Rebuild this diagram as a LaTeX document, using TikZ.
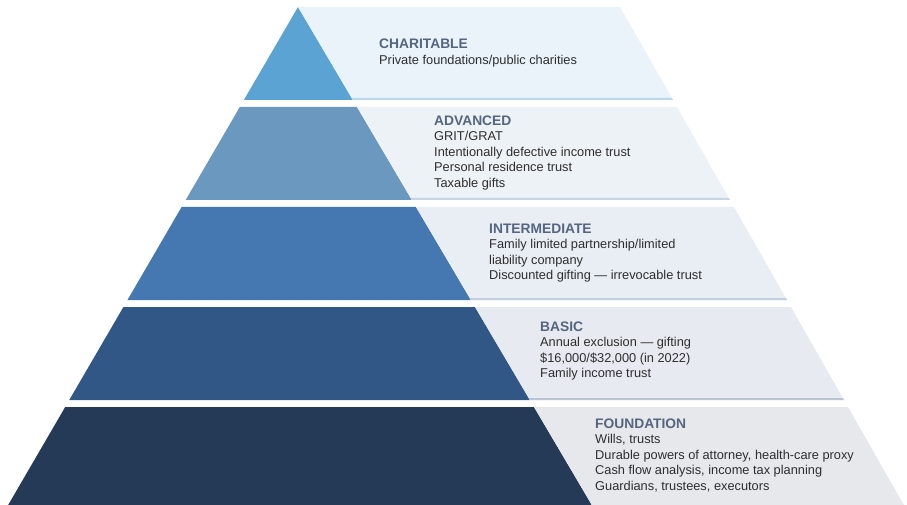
\documentclass[tikz,border=0pt]{standalone}
\usepackage{fontspec}
\setmainfont{Liberation Sans}
\definecolor{dA}{HTML}{5BA3D3}\definecolor{lA}{HTML}{EAF3FA}\definecolor{sA}{HTML}{BFD7EA}
\definecolor{dB}{HTML}{6B98BE}\definecolor{lB}{HTML}{EDF2F7}\definecolor{sB}{HTML}{C6D5E3}
\definecolor{dC}{HTML}{4578B0}\definecolor{lC}{HTML}{E9EEF5}\definecolor{sC}{HTML}{C3CFDF}
\definecolor{dD}{HTML}{305786}\definecolor{lD}{HTML}{E7EAF0}\definecolor{sD}{HTML}{BAC4D2}
\definecolor{dE}{HTML}{243A56}\definecolor{lE}{HTML}{E6E8EC}\definecolor{sE}{HTML}{E6E8EC}
\definecolor{ttlc}{HTML}{55657F}
\definecolor{bodyc}{HTML}{2E2E2E}
\newcommand\pyrtier[5]{%
  \fill[#3] ({Lx(#1)},#1) -- ({Cx(#1)},#1) -- ({Cx(#2)},#2) -- ({Lx(#2)},#2) -- cycle;
  \fill[#4] ({Cx(#1)},#1) -- ({Rx(#1)},#1) -- ({Rx(#2)},#2) -- ({Cx(#2)},#2) -- cycle;
  \fill[#5] ({Cx(#2-2)},#2-2) -- ({Rx(#2-2)},#2-2) -- ({Rx(#2)},#2) -- ({Cx(#2)},#2) -- cycle;
}
\newcommand\ttl[1]{{\fontsize{13.8}{15.5}\selectfont\bfseries\color{ttlc}#1}}
\begin{document}
\begin{tikzpicture}[x=1pt,y=-1pt,
  declare function={Lx(\y)=298-0.582*(\y-7); Cx(\y)=298+0.590*(\y-7); Rx(\y)=620+0.570*(\y-7);},
  tiertext/.style={anchor=west, align=left, inner sep=0pt, text=bodyc,
    font=\fontsize{12.8}{15.5}\selectfont}]
\useasboundingbox (0,0) rectangle (907,505);
\pyrtier{7}{100}{dA}{lA}{sA}
\pyrtier{107}{200}{dB}{lB}{sB}
\pyrtier{207}{300}{dC}{lC}{sC}
\pyrtier{307}{400}{dD}{lD}{sD}
\pyrtier{407}{505}{dE}{lE}{sE}
\node[tiertext] (t1) at (379,53) {\ttl{CHARITABLE}\\Private foundations/public charities};
\node[tiertext] (t2) at (434,153) {\ttl{ADVANCED}\\GRIT/GRAT\\Intentionally defective income trust\\Personal residence trust\\Taxable gifts};
\node[tiertext] (t3) at (489,253) {\ttl{INTERMEDIATE}\\Family limited partnership/limited\\liability company\\Discounted gifting — irrevocable trust};
\node[tiertext] (t4) at (540,351) {\ttl{BASIC}\\Annual exclusion — gifting\\\$16,000/\$32,000 (in 2022)\\Family income trust};
\node[tiertext] (t5) at (595,455) {\ttl{FOUNDATION}\\Wills, trusts\\Durable powers of attorney, health-care proxy\\Cash flow analysis, income tax planning\\Guardians, trustees, executors};
\end{tikzpicture}
\end{document}
